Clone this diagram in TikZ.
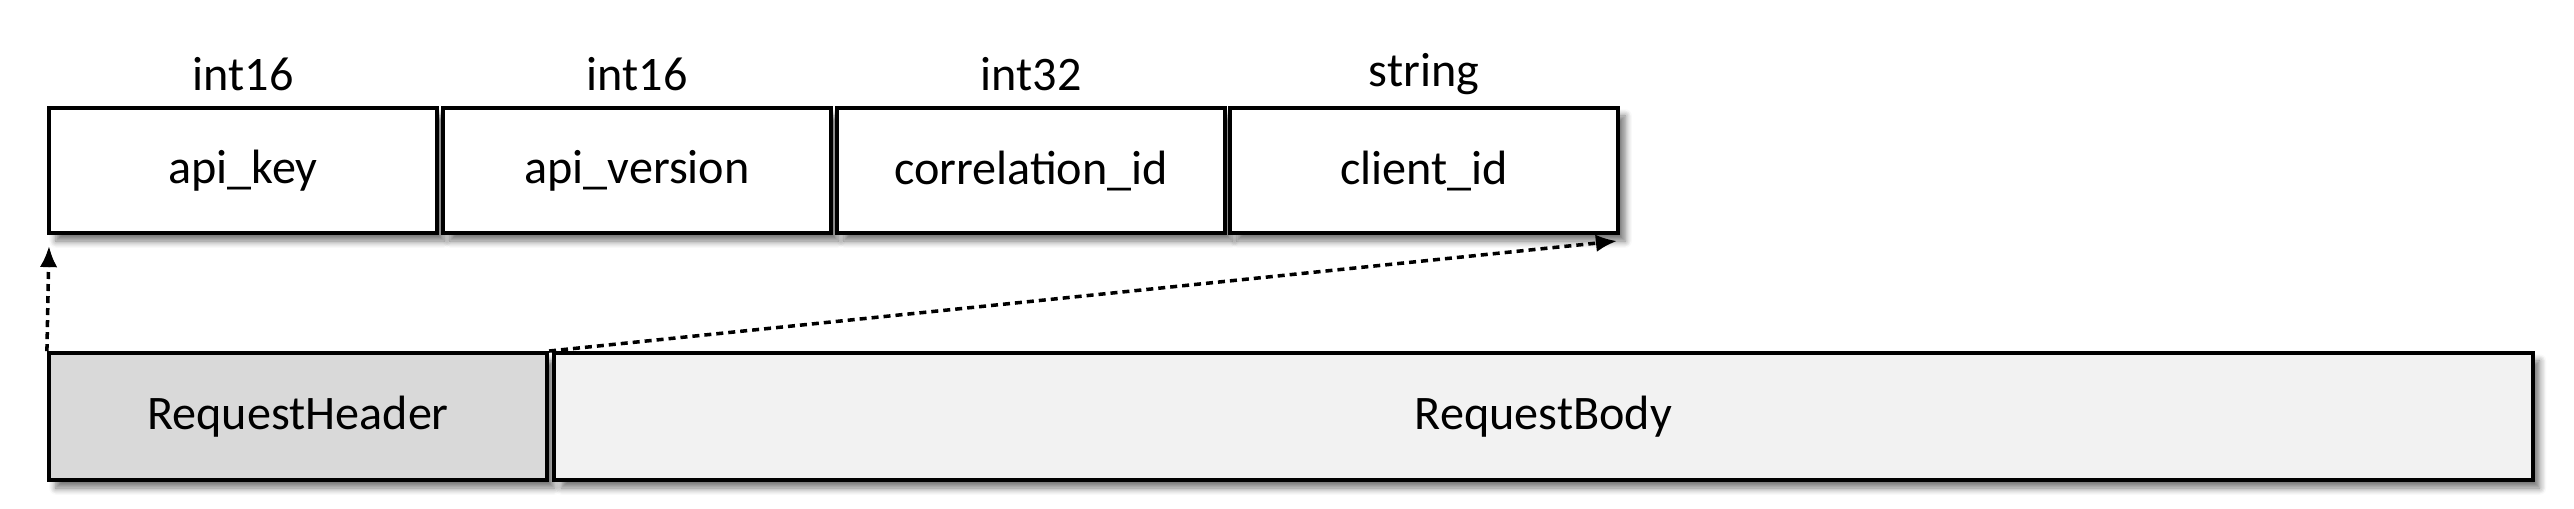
\documentclass[tikz,border=0pt]{standalone}
\usepackage{fontspec}
\setmainfont{Carlito}
\usetikzlibrary{arrows.meta,shadows.blur}

\begin{document}
\begin{tikzpicture}[x=0.01cm, y=-0.01cm,
	field/.style = {draw, line width=1.1pt, fill=white, minimum width=3.88cm, minimum height=1.25cm,
		blur shadow={shadow xshift=0.07cm, shadow yshift=-0.08cm, shadow blur steps=6, shadow opacity=55}},
	part/.style = {field, minimum height=1.27cm},
	ftype/.style = {inner sep=0pt},
	link/.style = {line width=1pt, dash pattern=on 0.07cm off 0.05cm, -{Latex[length=6pt,width=5pt]}},
	font=\fontsize{13.7}{16}\selectfont]
	\useasboundingbox (0,0) rectangle (2574,508);
		\node[field] (key) at (243,170.5) {api\_key};
		\node[field] (version) at (637,170.5) {api\_version};
		\node[field] (corr) at (1031,170.5) {correlation\_id};
		\node[field] (client) at (1424,170.5) {client\_id};
		\node[ftype] (tkey) at (243,74) {int16};
		\node[ftype] (tversion) at (637,74) {int16};
		\node[ftype] (tcorr) at (1031,74) {int32};
		\node[ftype] (tclient) at (1424,74) {string};
		\node[part, fill=black!15, minimum width=4.98cm] (header) at (298,416.5) {RequestHeader};
		\node[part, fill=black!5, minimum width=19.77cm] (body) at (1543.5,416.5) {RequestBody};
		\coordinate (up) at (49,246);
		\coordinate (end) at (1617,241);
	%	both arrows dashed
		\draw[link] (header.north west) -- (up);
		\draw[link] (header.north east) -- (end);
\end{tikzpicture}
\end{document}
